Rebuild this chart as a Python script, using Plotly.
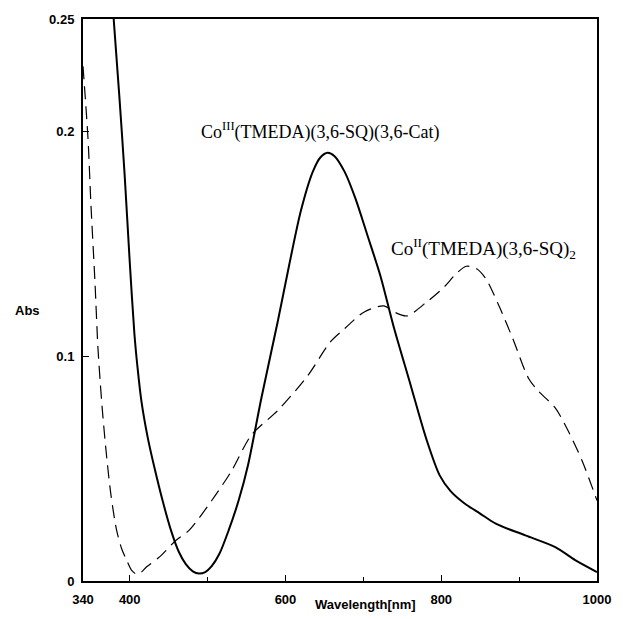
import plotly.graph_objects as go

# Co(III)(TMEDA)(3,6-SQ)(3,6-Cat) -- solid
wl_co3 = [376, 379.4, 387, 393.4, 400, 406, 410, 415, 423, 432, 442, 453, 463, 472, 481, 489, 497,
          505, 515, 527, 540, 552, 569, 590, 605, 620, 635, 645, 654, 663, 676, 690, 705, 722, 739,
          760, 781, 798, 812, 830, 850, 870, 908, 947, 972, 1000]
abs_co3 = [0.268, 0.250, 0.214, 0.181, 0.142, 0.110, 0.095, 0.080, 0.064, 0.050, 0.036, 0.0225, 0.013,
           0.0075, 0.0043, 0.0033, 0.0040, 0.0065, 0.012, 0.0225, 0.036, 0.0517, 0.0813, 0.1153, 0.141,
           0.165, 0.182, 0.1885, 0.1905, 0.189, 0.182, 0.170, 0.154, 0.1356, 0.113, 0.088, 0.063, 0.047,
           0.040, 0.0345, 0.030, 0.0255, 0.0203, 0.015, 0.0093, 0.004]

# Co(II)(TMEDA)(3,6-SQ)2 -- dashed
wl_co2 = [340, 346.4, 350.2, 355.3, 359.1, 362, 365.4, 370.5, 376, 383.2, 390, 396, 402, 408.7,
          415, 421.4, 437.9, 459.5, 476.1, 505.3, 530.8, 556.2, 590.5, 628.7, 657.9, 675.7, 701.2,
          726.6, 739.3, 755.8, 781.3, 802.9, 820, 832.2, 845, 857.6, 874.1, 891.9, 912.2, 925.0,
          946.6, 963.1, 981.0, 1000]
abs_co2 = [0.229, 0.197, 0.1674, 0.1334, 0.1042, 0.089, 0.0738, 0.0548, 0.038, 0.0225, 0.014, 0.0093,
           0.005, 0.0031, 0.004, 0.0062, 0.0106, 0.0181, 0.0225, 0.0358, 0.0490, 0.0649, 0.0760, 0.0914,
           0.1065, 0.1122, 0.1197, 0.1224, 0.1197, 0.1179, 0.1241, 0.1305, 0.137, 0.1400, 0.139, 0.1343,
           0.1224, 0.1078, 0.0901, 0.0844, 0.0769, 0.0667, 0.0534, 0.0358]

x_ticks = [340, 400, 600, 800, 1000]
x_minor = [500, 700, 900]
y_ticks = [0, 0.1, 0.2, 0.25]
y_labels = ["0", "0.1", "0.2", "0.25"]

W, H = 623, 619
ML, MR, MT, MB = 83, 20, 18, 35
pw, ph = W - ML - MR, H - MT - MB

def px(xp):
    return (xp - ML) / pw

def py(yp):
    return (H - MB - yp) / ph

fig = go.Figure()
fig.add_trace(go.Scatter(x=wl_co3, y=abs_co3, mode="lines",
                         line=dict(color="black", width=2, shape="spline", smoothing=0.8),
                         showlegend=False))
fig.add_trace(go.Scatter(x=wl_co2, y=abs_co2, mode="lines",
                         line=dict(color="black", width=1.2, dash="13px,7px", shape="spline", smoothing=0.8),
                         showlegend=False))

sans = "Liberation Sans, Arial, sans-serif"
serif = "Liberation Serif, Times New Roman, serif"

fig.update_layout(
    width=W, height=H,
    margin=dict(l=ML, r=MR, t=MT, b=MB, pad=0),
    paper_bgcolor="white", plot_bgcolor="white",
    xaxis=dict(range=[340, 1000], tickvals=x_ticks, ticktext=[str(v) for v in x_ticks],
               ticks="inside", ticklen=6, tickwidth=1, tickcolor="black",
               minor=dict(tickvals=x_minor, ticks="inside", ticklen=4, tickcolor="black"),
               showline=True, linecolor="black", linewidth=2, mirror=True,
               showgrid=False, zeroline=False,
               tickfont=dict(family=sans, size=13, color="black", weight="bold"),
               ticklabelstandoff=5),
    yaxis=dict(range=[0, 0.25], tickvals=y_ticks, ticktext=y_labels,
               ticks="inside", ticklen=6, tickwidth=1, tickcolor="black",
               showline=True, linecolor="black", linewidth=2, mirror=True,
               showgrid=False, zeroline=False,
               tickfont=dict(family=sans, size=13, color="black", weight="bold"),
               ticklabelstandoff=4),
    annotations=[
        dict(x=px(27), y=py(312), xref="paper", yref="paper", text="Abs", showarrow=False,
             font=dict(family=sans, size=13, color="black", weight="bold"),
             xanchor="center", yanchor="middle"),
        dict(x=px(369), y=py(608), xref="paper", yref="paper", text="Wavelength[nm]", showarrow=False,
             font=dict(family=sans, size=13, color="black", weight="bold"),
             xanchor="center", yanchor="middle"),
        dict(x=px(200), y=py(131), xref="paper", yref="paper",
             text="Co<sup>III</sup>(TMEDA)(3,6-SQ)(3,6-Cat)", showarrow=False,
             font=dict(family=serif, size=18, color="black"),
             xanchor="left", yanchor="middle"),
        dict(x=px(393), y=py(249), xref="paper", yref="paper",
             text="Co<sup>II</sup>(TMEDA)(3,6-SQ)<sub>2</sub>", showarrow=False,
             font=dict(family=serif, size=19, color="black"),
             xanchor="left", yanchor="middle"),
    ],
)

fig.write_html("out.html")
